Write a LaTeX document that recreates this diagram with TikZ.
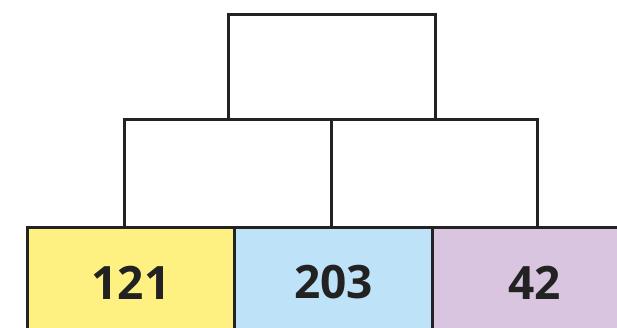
\documentclass[tikz,border=0pt]{standalone}
\usepackage{fontspec}
\setmainfont{Open Sans}
\definecolor{ink}{HTML}{222222}
\definecolor{cyellow}{HTML}{FEF081}
\definecolor{cblue}{HTML}{BEE3F8}
\definecolor{cpurple}{HTML}{D9C5E0}
\begin{document}
\begin{tikzpicture}[x=1pt,y=-1pt,
  brick/.style={draw=ink,line width=3pt,rectangle,inner sep=0pt,anchor=north west,
    font=\fontsize{46}{46}\selectfont\bfseries,text=ink}]
\useasboundingbox (0,0) rectangle (617,328);
\clip (0,0) rectangle (617,328);
% bottom row
\node[brick,fill=cyellow,minimum width=207pt,minimum height=110pt] (b1) at (26,226) {121};
\node[brick,fill=cblue,minimum width=198pt,minimum height=110pt] (b2) at (233,226) {203};
\node[brick,fill=cpurple,minimum width=204pt,minimum height=110pt] (b3) at (431,226) {42};
% middle row
\node[brick,minimum width=207pt,minimum height=108pt] (m1) at (123,118) {};
\node[brick,minimum width=206pt,minimum height=108pt] (m2) at (330,118) {};
% top
\node[brick,minimum width=207pt,minimum height=105pt] (t) at (227,13) {};
\end{tikzpicture}
\end{document}
